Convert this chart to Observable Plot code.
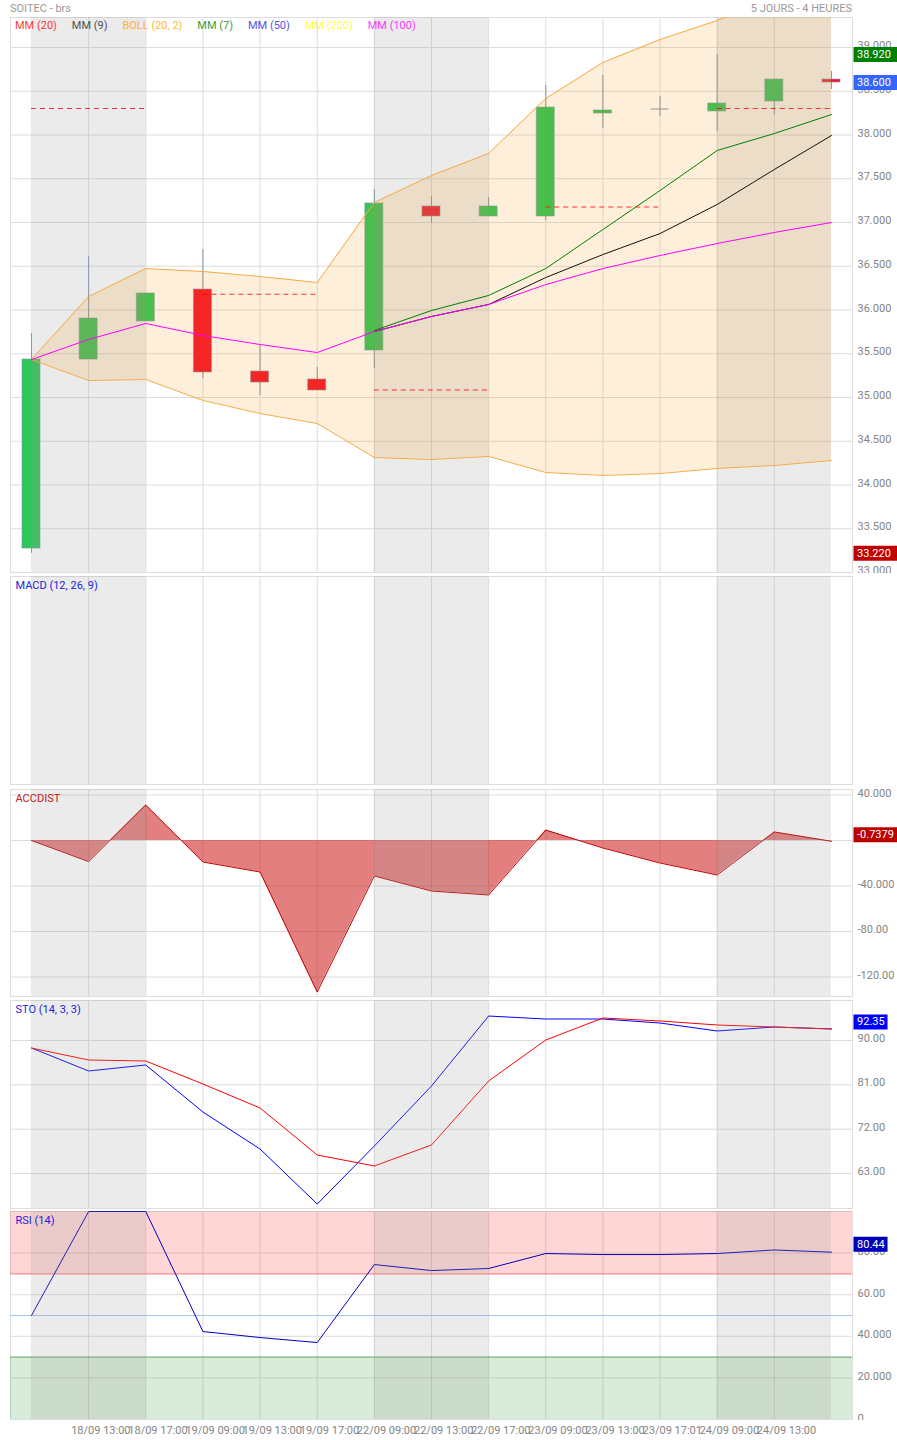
<!DOCTYPE html>
<html>
<head>
<meta charset="utf-8">
<script src="https://cdn.jsdelivr.net/npm/d3@7"></script>
<script src="https://cdn.jsdelivr.net/npm/@observablehq/plot@0.6"></script>
<style>
  html, body { margin: 0; padding: 0; background: #fff; overflow: hidden; }
  #page { position: relative; width: 897px; font: 11px Roboto, sans-serif; }
  #head { height: 17px; width: 842px; padding-left: 10px; display: flex; justify-content: space-between; align-items: center; color: #999; }
  #legend { position: absolute; top: 17px; left: 15px; height: 16px; display: flex; gap: 14.9px; align-items: center; }
  svg { display: block; }
</style>
</head>
<body>
<div id="page">
  <div id="head"><span id="title"></span><span id="period"></span></div>
  <div id="legend"></div>
</div>
<script>
const chartTitle = "SOITEC - brs";
const chartPeriod = "5 JOURS - 4 HEURES";
const legendLabels = ["MM (20)", "MM (9)", "BOLL (20, 2)", "MM (7)", "MM (50)", "MM (200)", "MM (100)"];
const legendColors = ["red", "#222", "#ffa500", "green", "#2222dd", "yellow", "magenta"];

const xLabels = ["18/09 13:00","18/09 17:00","19/09 09:00","19/09 13:00","19/09 17:00","22/09 09:00","22/09 13:00","22/09 17:00","23/09 09:00","23/09 13:00","23/09 17:01","24/09 09:00","24/09 13:00"];
const sessionStart = [0, 6, 12];
const sessionEnd = [2, 8, 14];

const open  = [33.274,35.434,35.869,36.234,35.297,35.206,35.537,37.183,37.069,37.069,38.246,38.297,38.269,38.383,38.634];
const close = [35.434,35.903,36.189,35.286,35.171,35.080,37.217,37.069,37.183,38.314,38.280,38.297,38.360,38.634,38.600];
const high  = [35.731,36.611,36.189,36.691,35.594,35.343,37.377,37.297,37.286,38.566,38.680,38.440,38.920,38.634,38.726];
const low   = [33.220,35.434,35.869,35.217,35.023,35.080,35.331,36.989,37.069,37.023,38.074,38.211,38.040,38.223,38.520];

const bollUpper = [35.434,36.154,36.474,36.440,36.383,36.314,37.229,37.537,37.789,38.417,38.829,39.091,39.309,39.549,39.766];
const bollLower = [35.434,35.194,35.206,34.966,34.817,34.703,34.314,34.291,34.326,34.143,34.109,34.131,34.189,34.223,34.280];
const mm100 = [35.434,35.663,35.846,35.709,35.606,35.514,35.754,35.926,36.063,36.291,36.474,36.623,36.760,36.886,37.000];
const mm9Index = [6,7,8,9,10,11,12,13,14];
const mm9 = [35.754,35.926,36.063,36.371,36.634,36.874,37.206,37.606,37.994];
const mm7 = [35.766,35.994,36.166,36.474,36.920,37.366,37.823,38.017,38.234];

const pivotStart = [0, 3, 6, 9, 12];
const pivotEnd = [2, 5, 8, 11, 14];
const pivotValue = [38.303, 36.180, 35.086, 37.177, 38.303];

const priceTicks = [33,33.5,34,34.5,35,35.5,36,36.5,37,37.5,38,38.5,39];
const priceLabels = ["33.000","33.500","34.000","34.500","35.000","35.500","36.000","36.500","37.000","37.500","38.000","38.500","39.000"];

const accDist = [0,-18.5,31.2,-18.9,-27.7,-133.2,-31.2,-44.4,-47.9,9.2,-6.6,-19.8,-30.3,7.5,-0.7379];
const accTicks = [40,0,-40,-80,-120];
const accLabels = ["40.000","","-40.000","-80.00","-120.00"];

const stoK = [88.48,83.81,85.03,75.49,67.97,56.81,68.58,80.76,94.97,94.36,94.36,93.55,91.93,92.74,92.35];
const stoD = [88.48,86.04,85.84,81.17,76.30,66.76,64.53,68.79,81.78,90.10,94.57,93.96,93.15,92.74,92.33];
const stoTicks = [90,81,72,63];
const stoLabels = ["90.00","81.00","72.00","63.00"];

const rsi = [50,100,100,42.3,39.4,37,74.5,71.6,72.6,79.8,79.3,79.3,79.8,81.5,80.44];
const rsiTicks = [0,20,40,60,80];
const rsiLabels = ["0","20.000","40.000","60.00","80.00"];

const idx = d3.range(15);
const xMin = -0.3675, xMax = 14.368;      // frame edges on the candle index scale
const tagLeft = 14.394, tagMid = 14.99, tagRight = 15.2, tagText = 14.447;
const bodyHalf = 0.1575;
const font = {fontFamily: "Roboto, sans-serif", fontSize: 11};
const AXIS = "#848484", GRID = "#ddd";

function tag(value, label, color, shift = 0) {
  const end = label.length >= 6 ? tagRight : tagMid;
  return [
    Plot.ruleY([value], {x1: () => tagLeft, x2: () => end, stroke: color, strokeWidth: 15, dy: shift}),
    Plot.text([value], {x: () => tagText, y: d => d, text: () => label, fill: "#fff", textAnchor: "start", dy: shift, ...font})
  ];
}

function panel({height, marginTop, domain, ticks = [], labels = [], grid = ticks, name, nameColor, under = [], over = [], tags = [], labelShift = -2}) {
  const fmt = d => labels[ticks.indexOf(d)];
  return Plot.plot({
    width: 897, height, marginTop, marginBottom: 1, marginLeft: 10, marginRight: 45,
    x: {domain: [xMin, xMax], axis: null},
    y: {domain, axis: null},
    color: {type: "identity"},
    style: {background: "transparent", fontFamily: "Roboto, sans-serif", fontSize: "11px"},
    marks: [
      Plot.ruleY(grid, {stroke: GRID}),
      Plot.ruleX(d3.range(1, 14), {stroke: GRID}),
      Plot.frame({stroke: GRID}),
      ...under,
      Plot.rectY(sessionStart, {x1: d => d, x2: (d, i) => sessionEnd[i], y1: () => domain[0], y2: () => domain[1], fill: "#9e9e9e", fillOpacity: 0.205}),
      ...over,
      ticks.length ? Plot.axisY({anchor: "right", ticks, tickFormat: fmt, tickSize: 0, tickPadding: 5, dy: labelShift, fill: AXIS, fontSize: 11, label: null}) : null,
      ...tags,
      name ? Plot.text([name], {frameAnchor: "top-left", dx: 5, dy: 4.5, lineAnchor: "top", fill: nameColor, ...font}) : null
    ]
  });
}

const wicks = Plot.ruleX(idx, {y1: i => low[i], y2: i => high[i], stroke: "#8496aa", strokeWidth: 1});
const bodies = Plot.rect(idx.filter(i => open[i] !== close[i]), {
  x1: i => i - bodyHalf, x2: i => i + bodyHalf,
  y1: i => open[i], y2: i => close[i],
  fill: i => close[i] >= open[i] ? "#2dc658" : "#f3142c",
  stroke: "#8496aa", strokeOpacity: 0.6
});
const dojis = Plot.ruleY(idx.filter(i => open[i] === close[i]), {
  y: i => open[i], x1: i => i - bodyHalf, x2: i => i + bodyHalf, stroke: "#8496aa"
});

const pricePanel = panel({
  height: 556, marginTop: 0, domain: [33, 39.343], ticks: priceTicks, labels: priceLabels,
  under: [wicks, bodies, dojis],
  over: [
    Plot.areaY(idx, {x: i => i, y1: i => bollLower[i], y2: i => bollUpper[i], fill: "rgb(245,140,0)", fillOpacity: 0.14, clip: true}),
    Plot.line(idx, {x: i => i, y: i => bollUpper[i], stroke: "#f7ab45", strokeWidth: 1, clip: true}),
    Plot.line(idx, {x: i => i, y: i => bollLower[i], stroke: "#f7ab45", strokeWidth: 1, clip: true}),
    Plot.line(mm9Index, {x: d => d, y: (d, i) => mm9[i], stroke: "#111", strokeWidth: 1}),
    Plot.line(mm9Index, {x: d => d, y: (d, i) => mm7[i], stroke: "green", strokeWidth: 1}),
    Plot.line(idx, {x: i => i, y: i => mm100[i], stroke: "#f0f", strokeWidth: 1}),
    Plot.ruleY(pivotValue, {x1: (d, i) => pivotStart[i], x2: (d, i) => pivotEnd[i], stroke: "red", strokeOpacity: 0.8, strokeWidth: 1, strokeDasharray: "5,4"})
  ],
  tags: [...tag(38.92, "38.920", "#008000"), ...tag(38.6, "38.600", "#3366ff"), ...tag(33.22, "33.220", "#c00000")]
});

const macdPanel = panel({height: 212, marginTop: 3, domain: [0, 1], grid: [], name: "MACD (12, 26, 9)", nameColor: "#2222dd"});

const accPanel = panel({
  height: 212, marginTop: 4, domain: [-137.1, 44.84], ticks: accTicks, labels: accLabels, grid: accTicks,
  name: "ACCDIST", nameColor: "#bb2222",
  under: [
    Plot.areaY(idx, {x: i => i, y1: () => 0, y2: i => accDist[i], fill: "#c80000", fillOpacity: 0.5}),
    Plot.line(idx, {x: i => i, y: i => accDist[i], stroke: "#c00000", strokeWidth: 1})
  ],
  tags: tag(-0.7379, "-0.7379", "#bb0000", -6.5)
});

const stoPanel = panel({
  height: 212, marginTop: 3, domain: [55.9, 98.12], ticks: stoTicks, labels: stoLabels,
  name: "STO (14, 3, 3)", nameColor: "#2222dd",
  under: [
    Plot.line(idx, {x: i => i, y: i => stoK[i], stroke: "blue", strokeWidth: 1}),
    Plot.line(idx, {x: i => i, y: i => stoD[i], stroke: "red", strokeWidth: 1})
  ],
  tags: tag(92.35, "92.35", "#0000ff", -7)
});

const rsiPanel = panel({
  height: 211, marginTop: 2, domain: [0, 100], ticks: rsiTicks, labels: rsiLabels, labelShift: -1.5,
  name: "RSI (14)", nameColor: "#2222dd",
  under: [
    Plot.rect([70], {x1: () => xMin, x2: () => xMax, y1: d => d, y2: () => 100, fill: "#ff0000", fillOpacity: 0.16}),
    Plot.rect([30], {x1: () => xMin, x2: () => xMax, y1: () => 0, y2: d => d, fill: "#008000", fillOpacity: 0.15}),
    Plot.ruleY([70], {stroke: "#f66"}),
    Plot.ruleY([50], {stroke: "#9cc8f5"}),
    Plot.ruleY([30], {stroke: "#6aa56a"}),
    Plot.line(idx, {x: i => i, y: i => rsi[i], stroke: "#0000bb", strokeWidth: 1})
  ],
  tags: tag(80.44, "80.44", "#0000bb", -8)
});

const xAxisPanel = Plot.plot({
  width: 897, height: 20, marginTop: 0, marginBottom: 0, marginLeft: 10, marginRight: 45,
  x: {domain: [xMin, xMax], axis: null},
  y: {axis: null},
  style: {background: "transparent", fontFamily: "Roboto, sans-serif", fontSize: "11px"},
  marks: [
    Plot.text(xLabels, {x: (d, i) => i + 1, text: d => d, frameAnchor: "middle", textAnchor: "start", dx: -17.5, fill: AXIS, ...font})
  ]
});

const page = document.getElementById("page");
document.getElementById("title").textContent = chartTitle;
document.getElementById("period").textContent = chartPeriod;
const legend = document.getElementById("legend");
legendLabels.forEach((label, i) => {
  const s = document.createElement("span");
  s.textContent = label;
  s.style.color = legendColors[i];
  s.style.opacity = 0.78;
  legend.appendChild(s);
});
[pricePanel, macdPanel, accPanel, stoPanel, rsiPanel, xAxisPanel].forEach(p => page.appendChild(p));
page.appendChild(legend);
</script>
</body>
</html>
